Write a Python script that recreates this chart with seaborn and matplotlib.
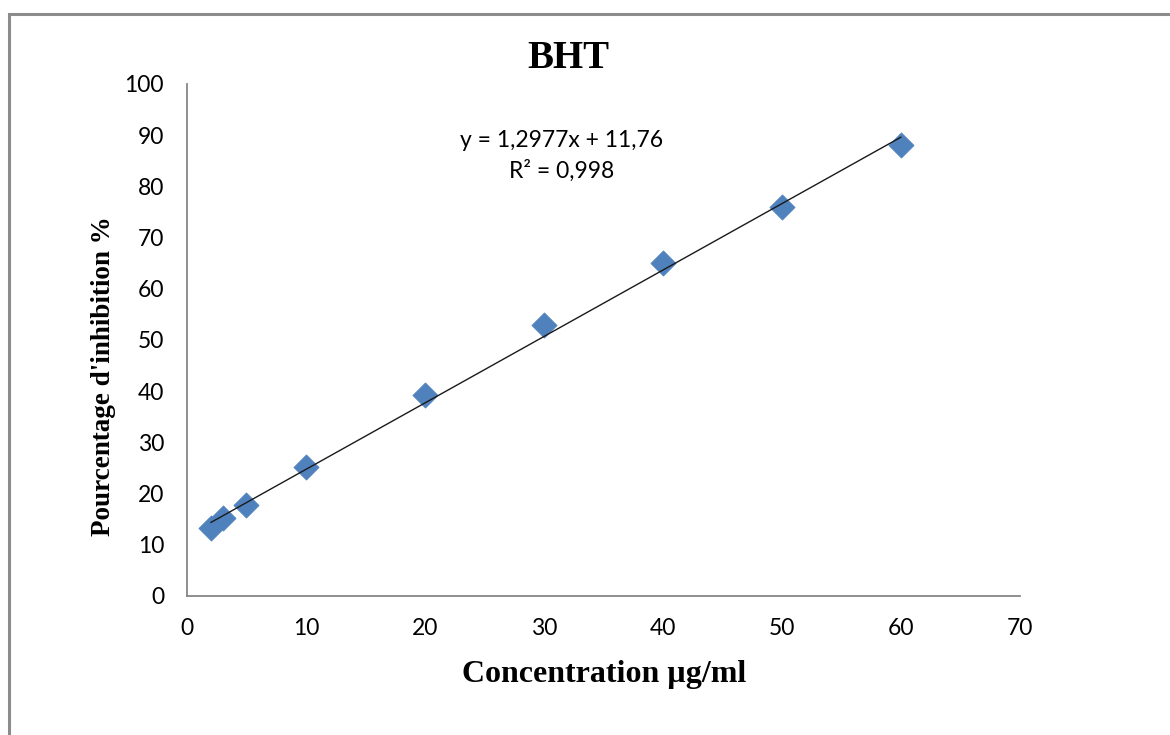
import matplotlib
matplotlib.use("Agg")
import matplotlib.pyplot as plt
import matplotlib.patches as mpatches
import numpy as np
import pandas as pd
import seaborn as sns

# Data
concentration = [2, 3, 5, 10, 20, 30, 40, 50, 60]
inhibition = [13.3, 15.2, 17.8, 25.1, 39.3, 52.9, 65.0, 76.0, 88.1]
slope = 1.2977
intercept = 11.76
r2_text = "R² = 0,998"
eq_text = "y = 1,2977x + 11,76"
x_ticks = [0, 10, 20, 30, 40, 50, 60, 70]
y_ticks = [0, 10, 20, 30, 40, 50, 60, 70, 80, 90, 100]

sns.set_theme(style="white")
plt.rcParams['font.family'] = ['Lato', 'DejaVu Sans']
plt.rcParams['text.color'] = 'black'
plt.rcParams['axes.labelcolor'] = 'black'

W, H = 1170, 735
fig = plt.figure(figsize=(W / 100, H / 100), dpi=100)
ax = fig.add_axes([187 / W, 1 - 596 / H, (1020 - 187) / W, (596 - 84) / H])

df = pd.DataFrame({"x": concentration, "y": inhibition})
xl = np.array([min(concentration), max(concentration)])
line_df = pd.DataFrame({"x": xl, "y": slope * xl + intercept})

sns.lineplot(data=line_df, x="x", y="y", ax=ax, color="#1a1a1a", linewidth=1.0, zorder=3)
sns.scatterplot(data=df, x="x", y="y", ax=ax, marker="D", s=165, color="#4F81BD",
                edgecolor="#4F81BD", linewidth=0.5, zorder=2)

ax.set_xlim(0, 70)
ax.set_ylim(0, 100)
ax.set_xticks(x_ticks)
ax.set_yticks(y_ticks)
ax.tick_params(axis="both", which="major", labelsize=16.5, direction="out", length=7,
               width=1, color="#868686", labelcolor="#000000", pad=9.5)
ax.tick_params(axis="x", pad=9)
for side in ["top", "right"]:
    ax.spines[side].set_visible(False)
for side in ["left", "bottom"]:
    ax.spines[side].set_color("#868686")
    ax.spines[side].set_linewidth(1.3)

ax.set_xlabel("Concentration µg/ml", fontsize=23, fontweight="bold", color="black",
              family=["Liberation Serif", "DejaVu Serif"])
ax.set_ylabel("Pourcentage d'inhibition %", fontsize=19.5, fontweight="bold", color="black",
              family=["Liberation Serif", "DejaVu Serif"])
ax.xaxis.set_label_coords((604 - 187) / (1020 - 187), -(660 - 596) / (596 - 84))
ax.yaxis.set_label_coords(-(187 - 116) / (1020 - 187), (596 - 376) / (596 - 84))

ax.text(31.5, 89, eq_text, ha="center", va="center", fontsize=16.5, color="black")
ax.text(31.5, 83, r2_text, ha="center", va="center", fontsize=16.5, color="black")

fig.text(568 / W, 1 - 68 / H, "BHT", ha="center", va="baseline", fontsize=28,
         fontweight="bold", color="black", family=["Liberation Serif", "DejaVu Serif"])

border = mpatches.Rectangle((9 / W, -0.05), 1.1, (1 - 14 / H) + 0.05, transform=fig.transFigure,
                            fill=False, edgecolor="#8c8c8c", linewidth=2.2)
fig.patches.append(border)

fig.savefig("out.png", dpi=100)
